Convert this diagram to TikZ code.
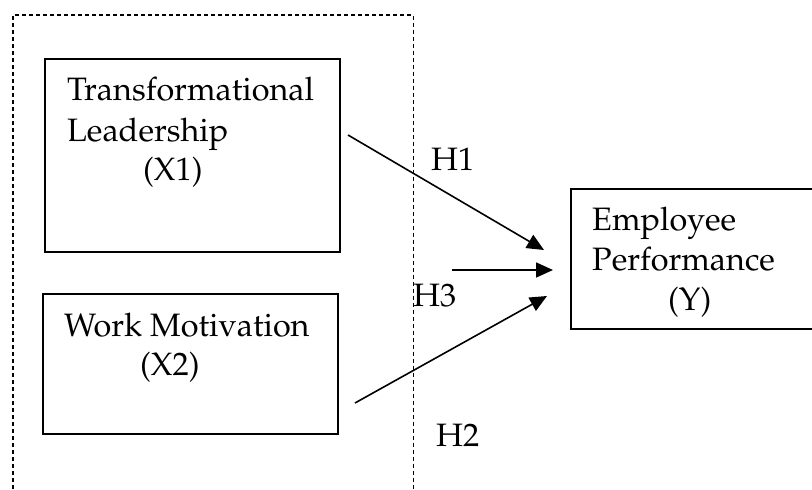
\documentclass[tikz,border=0pt]{standalone}
\usepackage[T1]{fontenc}
\renewcommand{\rmdefault}{ppl}
\usepackage{tikz}
\usetikzlibrary{positioning,arrows.meta}
\tikzset{
  box/.style = {rectangle, draw, line width=1.4pt, inner sep=0pt},
  txt/.style = {anchor=base west, inner sep=0pt,
                font=\fontsize{32.4}{41}\selectfont},
  arr/.style = {-{Triangle[length=17pt,width=15pt]}, line width=1.6pt}
}
\begin{document}
\begin{tikzpicture}[x=1pt, y=-1pt,
      frame/.style={draw, dash pattern=on 4pt off 3pt, line width=1.1pt}
    ]
    \useasboundingbox (0,0) rectangle (812,490);
    % gestrichelter Rahmen, unten offen
    \draw[frame] (13,510) -- (13,15) -- (413.5,15) -- (413.5,510);
    \node[box, minimum width=295pt, minimum height=193pt] (x1) at (192.5,155.5) {};
    \node[box, minimum width=295pt, minimum height=140pt] (x2) at (190.5,364) {};
    \node[box, minimum width=259pt, minimum height=140pt] (y)  at (700.5,259) {};
    % Texte in den Kästen
    \node[txt] (x1a) at (67,100)  {Transformational};
    \node[txt] (x1b) at (67,141)  {Leadership};
    \node[txt] (x1c) at (143,180) {(X1)};
    \node[txt] (x2a) at (64,336)  {Work Motivation};
    \node[txt] (x2b) at (140,375) {(X2)};
    \node[txt] (ya)  at (592,230) {Employee};
    \node[txt] (yb)  at (592,270) {Performance};
    \node[txt] (yc)  at (668,310) {(Y)};
    % Hypothesen
    \node[txt] (h1) at (431,170) {H1};
    \node[txt] (h3) at (413,306) {H3};
    \node[txt] (h2) at (436,446) {H2};
    \coordinate (h1s) at (348,135);
    \coordinate (h1e) at (544,250);
    \coordinate (h3s) at (452,270);
    \coordinate (h3e) at (553,270);
    \coordinate (h2s) at (355,403);
    \coordinate (h2e) at (547,296);
    \draw[arr] (h1s) -- (h1e);
    \draw[arr] (h3s) -- (h3e);
    \draw[arr] (h2s) -- (h2e);
  \end{tikzpicture}
\end{document}
